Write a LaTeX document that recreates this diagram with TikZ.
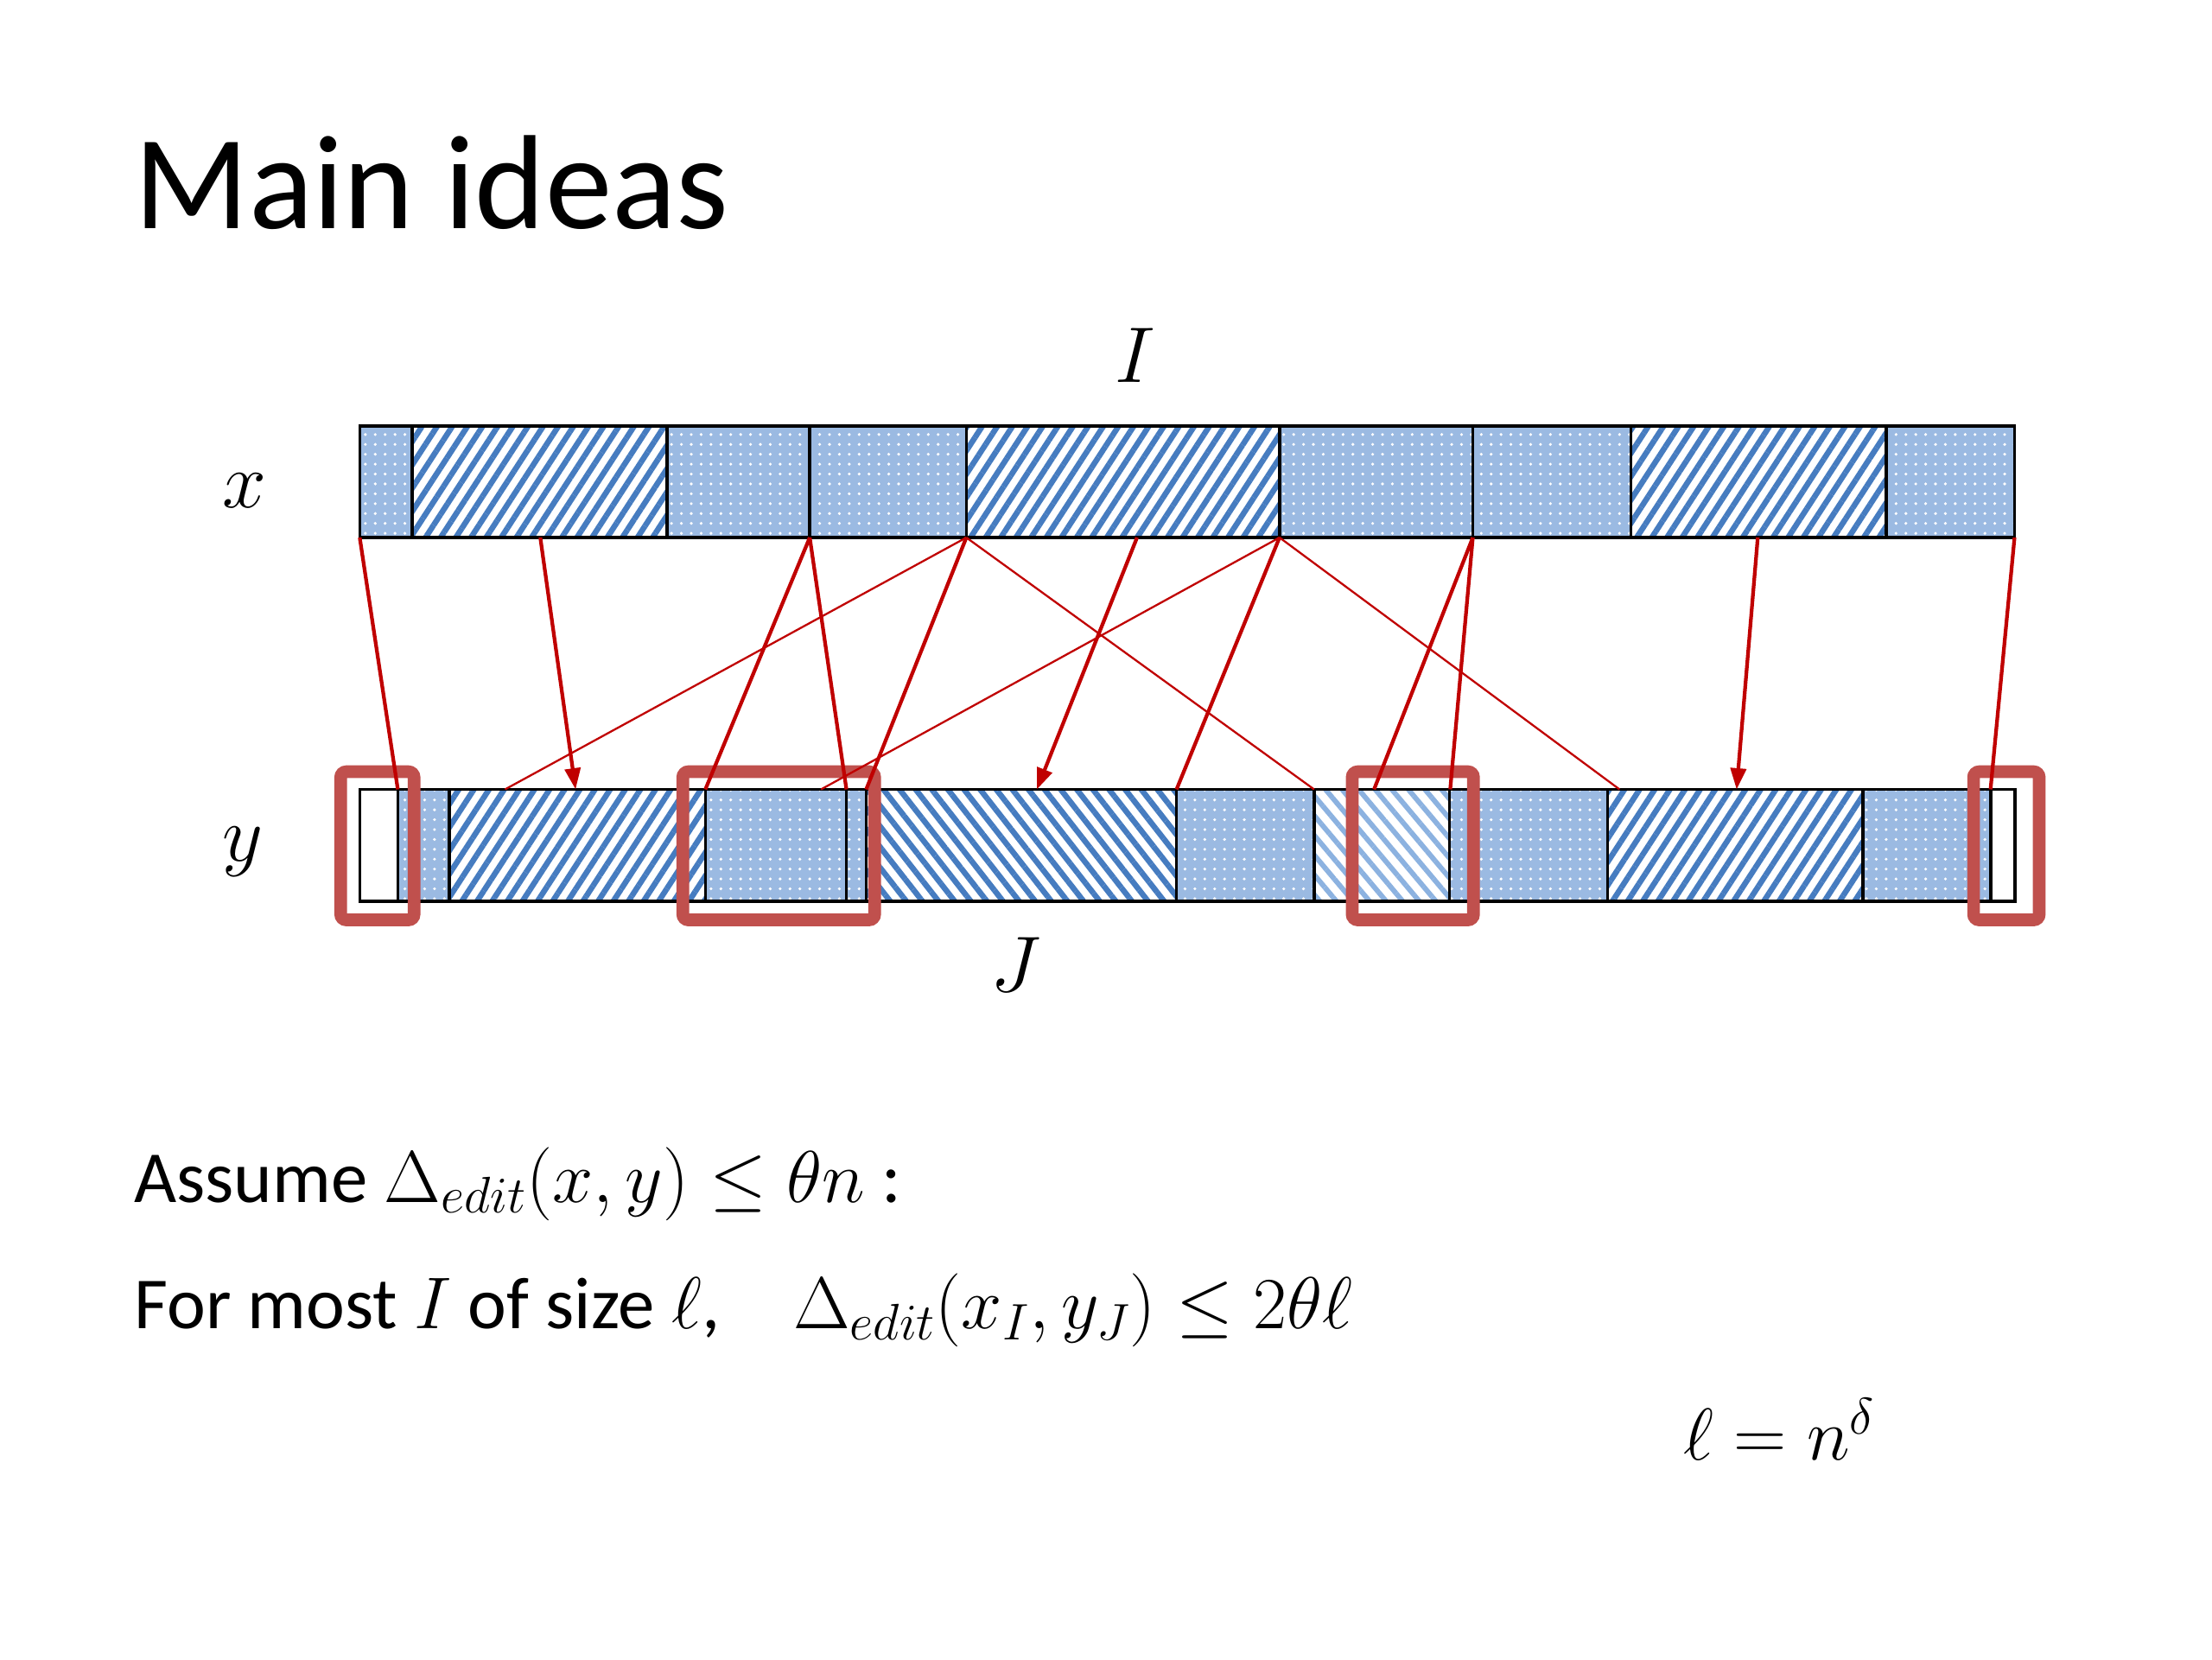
\documentclass[tikz,border=0pt]{standalone}
\usepackage{fix-cm}
\usepackage[no-math]{fontspec}
\setmainfont{Carlito}
\usetikzlibrary{patterns.meta,arrows.meta}
\definecolor{hatchblue}{RGB}{70,124,192}
\definecolor{lighthatch}{RGB}{140,178,224}
\definecolor{dotblue}{RGB}{155,186,226}
\definecolor{linered}{RGB}{192,0,0}
\definecolor{boxred}{RGB}{192,80,77}
\tikzset{
  dotcell/.style={fill=dotblue, postaction={pattern={Dots[radius=1.1pt,distance=7pt]}, pattern color=white}},
  necell/.style={pattern={Lines[angle=57,distance=9pt,line width=4pt]}, pattern color=hatchblue},
  nwcell/.style={pattern={Lines[angle=-52,distance=9pt,line width=4pt]}, pattern color=hatchblue},
  lnwcell/.style={pattern={Lines[angle=-50,distance=9pt,line width=3.6pt]}, pattern color=lighthatch},
  blankcell/.style={fill=white},
  cellborder/.style={draw=black, line width=2.2pt},
  maplink/.style={draw=linered, line width=2.6pt},
  thinlink/.style={draw=linered, line width=1.4pt},
  maparrow/.style={maplink, -{Triangle[length=15pt,width=11pt]}},
  hilite/.style={draw=boxred, line width=9pt, rounded corners=4pt},
  varlabel/.style={font=\fontsize{56}{62}\selectfont, inner sep=0pt},
  bodytext/.style={font=\fontsize{52}{60}\selectfont, anchor=base west, inner sep=0pt},
}
\begin{document}
\begin{tikzpicture}[x=1pt,y=-1pt]
\useasboundingbox[fill=white] (0,0) rectangle (1568,1176);

% title
\node[anchor=base west, inner sep=0pt, font=\fontsize{95}{110}\selectfont] (title) at (95,162) {Main ideas};

% top bar x
\foreach \a/\b/\s in {255/292/dotcell, 292/473/necell, 473/574/dotcell, 574/685/dotcell,
  685/907/necell, 907/1044/dotcell, 1044/1156/dotcell, 1156/1337/necell, 1337/1428/dotcell}
  \path[\s] (\a,302) rectangle (\b,381);
\draw[cellborder] (255,302) rectangle (1428,381);
\foreach \x in {292,473,574,685,907,1044,1156,1337}
  \draw[cellborder] (\x,302) -- (\x,381);

% bottom bar y
\foreach \a/\b/\s in {255/282/blankcell, 282/318.5/dotcell, 318.5/500/necell, 500/600/dotcell,
  600/614/dotcell, 614/834/nwcell, 834/931.5/dotcell, 931.5/1027.5/lnwcell, 1027.5/1139.5/dotcell,
  1139.5/1320.5/necell, 1320.5/1411/dotcell, 1411/1428.5/blankcell}
  \path[\s] (\a,559.5) rectangle (\b,639);
\draw[cellborder] (255,559.5) rectangle (1428.5,639);
\foreach \x in {282,318.5,500,600,614,834,931.5,1027.5,1139.5,1320.5,1411}
  \draw[cellborder] (\x,559.5) -- (\x,639);

% labels
\node[varlabel] (lblI) at (805,252) {$I$};
\node[varlabel] (lblx) at (173,348) {$x$};
\node[varlabel] (lbly) at (172,604) {$y$};
\node[varlabel] (lblJ) at (720,684) {$J$};

% highlight boxes
\draw[hilite] (241.5,547) rectangle (293.5,652);
\draw[hilite] (484,547) rectangle (620,652);
\draw[hilite] (958.5,547) rectangle (1044.5,652);
\draw[hilite] (1399,547) rectangle (1445.5,652);

% connector end points
\coordinate (xa) at (255,381);
\coordinate (xb) at (383,381);
\coordinate (xc) at (574,381);
\coordinate (xd) at (685,381);
\coordinate (xe) at (806,381);
\coordinate (xf) at (907,381);
\coordinate (xg) at (1044,381);
\coordinate (xh) at (1246,381);
\coordinate (xi) at (1428,381);

\coordinate (ya) at (282,559.5);
\coordinate (yb) at (358,559.5);
\coordinate (yc) at (408,559.5);
\coordinate (yd) at (500,559.5);
\coordinate (ye) at (582,559.5);
\coordinate (yf) at (600,559.5);
\coordinate (yg) at (614,559.5);
\coordinate (yh) at (735,559.5);
\coordinate (yi) at (834,559.5);
\coordinate (yj) at (931.5,559.5);
\coordinate (yk) at (974,559.5);
\coordinate (yl) at (1028,559.5);
\coordinate (ym) at (1148,559.5);
\coordinate (yn) at (1231,559.5);
\coordinate (yo) at (1411,559.5);

% connectors
\draw[thinlink] (xd) -- (yb);
\draw[thinlink] (xd) -- (yj);
\draw[thinlink] (xf) -- (ye);
\draw[thinlink] (xf) -- (ym);
\draw[maplink] (xa) -- (ya);
\draw[maparrow] (xb) -- (yc);
\draw[maplink] (xc) -- (yd);
\draw[maplink] (xc) -- (yf);
\draw[maplink] (xd) -- (yg);
\draw[maparrow] (xe) -- (yh);
\draw[maplink] (xf) -- (yi);
\draw[maplink] (xg) -- (yk);
\draw[maplink] (xg) -- (yl);
\draw[maparrow] (xh) -- (yn);
\draw[maplink] (xi) -- (yo);

% text
\node[bodytext] (line1) at (95,852) {Assume $\Delta_{edit}(x,y)\le\theta n$ :};
\node[bodytext] (line2) at (95,942) {For most $I$ of size $\ell$,\quad $\Delta_{edit}(x_I,y_J)\le 2\theta\ell$};
\node[bodytext] (ldef) at (1193,1035) {$\ell = n^{\delta}$};
\end{tikzpicture}
\end{document}
